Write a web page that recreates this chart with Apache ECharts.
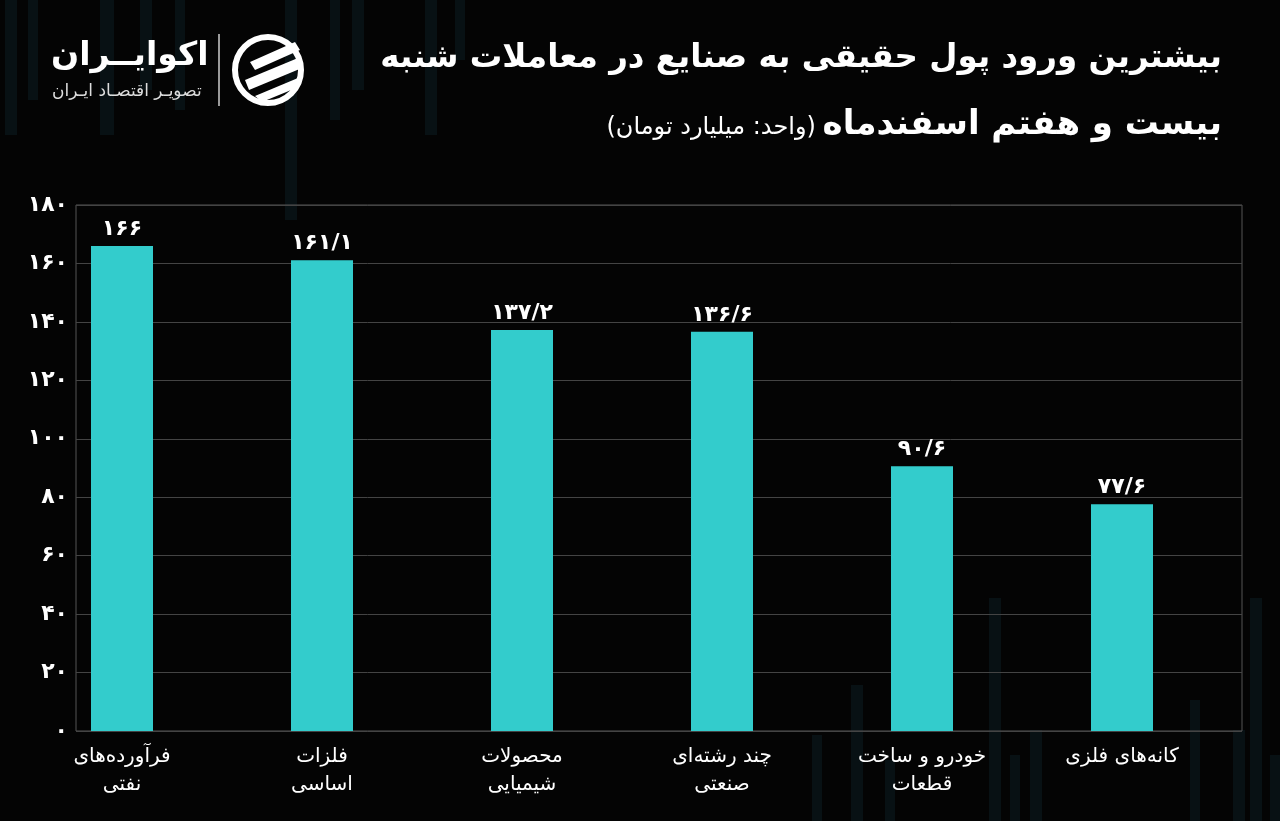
<!DOCTYPE html>
<html>
<head>
<meta charset="utf-8">
<script src="https://cdn.jsdelivr.net/npm/echarts@6/dist/echarts.min.js"></script>
<style>
html,body{margin:0;padding:0;background:#040404;}
#c{width:1280px;height:821px;}
</style>
</head>
<body>
<div id="c"></div>
<script>
// ---- data ----
const categories = ['فرآورده‌های\nنفتی', 'فلزات\nاساسی', 'محصولات\nشیمیایی', 'چند رشته‌ای\nصنعتی', 'خودرو و ساخت\nقطعات', 'کانه‌های فلزی'];
const values = [166, 161.1, 137.2, 136.6, 90.6, 77.6];
const yTicks = { min: 0, max: 180, interval: 20 };
const titleLine1 = 'بیشترین ورود پول حقیقی به صنایع در معاملات شنبه';
const titleLine2 = 'بیست و هفتم اسفندماه';
const unitText = '(واحد: میلیارد تومان)';
const brandName = 'اکوایــران';
const brandSub = 'تصویـر اقتصـاد ایـران';

const FA = '۰۱۲۳۴۵۶۷۸۹';
function toFa(v) {
  return String(v).replace('.', '/').replace(/\d/g, d => FA[d]);
}
const FONT = '"DejaVu Sans", sans-serif';

// decorative faint background stripes [x, yTop, width, height]
const stripes = [
  [5,0,12,135],[28,0,10,100],[100,0,14,135],[140,0,12,90],[175,0,10,110],[285,0,12,220],[330,0,10,120],[352,0,12,90],[425,0,12,135],[455,0,10,60],
  [812,735,10,86],[851,685,12,136],[885,760,10,61],[989,598,12,223],[1010,755,10,66],[1030,730,12,91],[1190,700,10,121],[1233,730,12,91],[1250,598,12,223],[1270,755,10,66]
];
const deco = stripes.map(s => ({
  type: 'rect', z: -10, silent: true,
  shape: { x: s[0], y: s[1], width: s[2], height: s[3] },
  style: { fill: 'rgba(25,70,85,0.2)' }
}));

const chart = echarts.init(document.getElementById('c'), null, { renderer: 'canvas' });
chart.setOption({
  backgroundColor: '#040404',
  animation: false,
  textStyle: { fontFamily: FONT },
  graphic: deco.concat([
    { type: 'text', right: 58, top: 42, style: { text: titleLine1, fill: '#fff', font: 'bold 32.5px ' + FONT, textAlign: 'right' } },
    { type: 'text', right: 58, top: 108, style: {
        text: '{u|' + unitText + '}  {b|' + titleLine2 + '}', fill: '#fff',
        rich: { u: { fontSize: 24, fontFamily: FONT, fill: '#fff', fontWeight: 'normal', padding: [6, 0, 0, 0] }, b: { fontSize: 34, fontWeight: 'bold', fontFamily: FONT, fill: '#fff' } },
        textAlign: 'right' } },
    { type: 'text', left: 51, top: 40, style: { text: brandName, fill: '#fff', font: 'bold 33px ' + FONT } },
    { type: 'text', left: 52, top: 83, style: { text: brandSub, fill: '#ddd', font: '17px ' + FONT } },
    { type: 'line', shape: { x1: 219, y1: 34, x2: 219, y2: 106 }, style: { stroke: '#ccc', lineWidth: 1.5 } },
    { type: 'circle', shape: { cx: 268, cy: 70, r: 33 }, style: { fill: 'none', stroke: '#fff', lineWidth: 6 } },
    { type: 'polygon', shape: { points: [[250,62],[295,42],[300,50],[255,70]] }, style: { fill: '#fff' } },
    { type: 'polygon', shape: { points: [[245,80],[298,58],[302,68],[249,90]] }, style: { fill: '#fff' } },
    { type: 'polygon', shape: { points: [[255,96],[298,78],[296,88],[262,102]] }, style: { fill: '#fff' } }
  ]),
  grid: [
    { left: 76, right: 38, top: 205, bottom: 90, show: true, borderColor: '#555', borderWidth: 1, backgroundColor: 'transparent' },
    { left: 22, right: 58, top: 205, bottom: 90 }
  ],
  xAxis: [
    { gridIndex: 0, type: 'value', min: 0, max: 1, show: false },
    { gridIndex: 1, type: 'category', data: categories,
      axisLine: { show: false }, axisTick: { show: false },
      axisLabel: { color: '#fff', fontSize: 20, lineHeight: 28, margin: 12, fontFamily: FONT } }
  ],
  yAxis: [
    { gridIndex: 0, type: 'value', min: yTicks.min, max: yTicks.max, interval: yTicks.interval,
      axisLine: { show: false }, axisTick: { show: false },
      splitLine: { lineStyle: { color: '#444', width: 1 } },
      axisLabel: { color: '#fff', fontSize: 22, fontWeight: 'bold', margin: 8, fontFamily: FONT, formatter: v => toFa(v) } },
    { gridIndex: 1, type: 'value', min: yTicks.min, max: yTicks.max, interval: yTicks.interval, show: false, splitLine: { show: false } }
  ],
  series: [{
    type: 'bar', xAxisIndex: 1, yAxisIndex: 1, data: values, barWidth: 62,
    itemStyle: { color: '#33cccc' },
    label: { show: true, position: 'top', distance: 6, color: '#fff', fontSize: 22, fontWeight: 'bold', fontFamily: FONT, formatter: p => toFa(p.value) }
  }]
});
</script>
</body>
</html>
